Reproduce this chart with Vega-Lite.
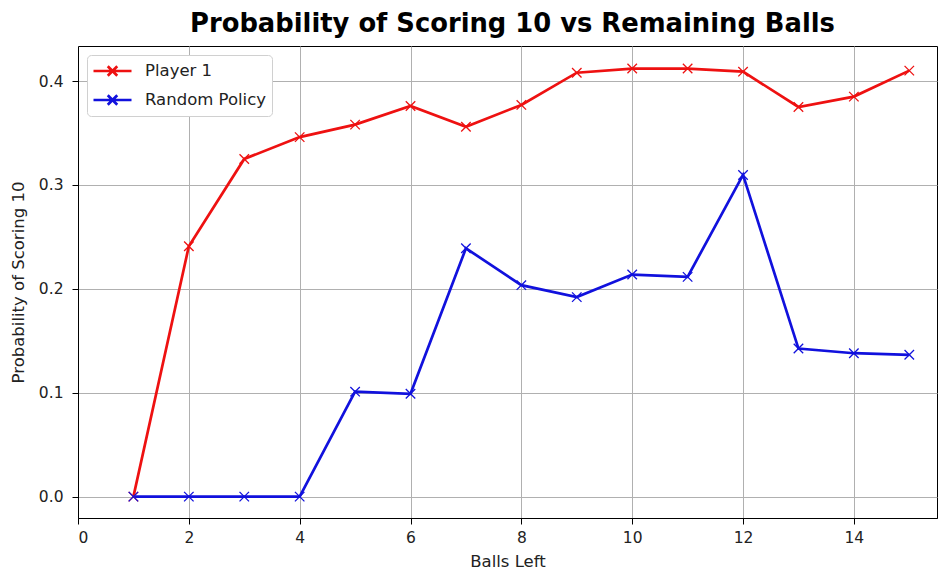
{
  "$schema": "https://vega.github.io/schema/vega-lite/v6.json",
  "width": 859,
  "height": 472,
  "autosize": {"type": "none"},
  "padding": {"left": 78, "top": 46, "right": 1, "bottom": 52},
  "background": "white",
  "config": {
    "font": "DejaVu Sans",
    "view": {"stroke": "black", "strokeWidth": 1},
    "axis": {
      "labelFont": "DejaVu Sans", "titleFont": "DejaVu Sans",
      "labelFontSize": 15.5, "titleFontSize": 16.5, "titleFontWeight": "normal",
      "labelColor": "#222", "titleColor": "#222",
      "gridColor": "#b0b0b0", "gridWidth": 1, "gridOpacity": 1,
      "domainColor": "black", "tickColor": "black", "tickSize": 6
    }
  },
  "title": {
    "text": "Probability of Scoring 10 vs Remaining Balls",
    "font": "DejaVu Sans", "fontSize": 25.8, "fontWeight": "bold", "color": "black",
    "anchor": "middle", "offset": 8, "dx": 5
  },
  "data": {
    "values": [
      {"balls": 1, "p": 0.0, "series": "Player 1"},
      {"balls": 2, "p": 0.241, "series": "Player 1"},
      {"balls": 3, "p": 0.325, "series": "Player 1"},
      {"balls": 4, "p": 0.346, "series": "Player 1"},
      {"balls": 5, "p": 0.358, "series": "Player 1"},
      {"balls": 6, "p": 0.376, "series": "Player 1"},
      {"balls": 7, "p": 0.356, "series": "Player 1"},
      {"balls": 8, "p": 0.377, "series": "Player 1"},
      {"balls": 9, "p": 0.408, "series": "Player 1"},
      {"balls": 10, "p": 0.412, "series": "Player 1"},
      {"balls": 11, "p": 0.412, "series": "Player 1"},
      {"balls": 12, "p": 0.409, "series": "Player 1"},
      {"balls": 13, "p": 0.375, "series": "Player 1"},
      {"balls": 14, "p": 0.385, "series": "Player 1"},
      {"balls": 15, "p": 0.41, "series": "Player 1"},
      {"balls": 1, "p": 0.0, "series": "Random Policy"},
      {"balls": 2, "p": 0.0, "series": "Random Policy"},
      {"balls": 3, "p": 0.0, "series": "Random Policy"},
      {"balls": 4, "p": 0.0, "series": "Random Policy"},
      {"balls": 5, "p": 0.101, "series": "Random Policy"},
      {"balls": 6, "p": 0.099, "series": "Random Policy"},
      {"balls": 7, "p": 0.239, "series": "Random Policy"},
      {"balls": 8, "p": 0.2035, "series": "Random Policy"},
      {"balls": 9, "p": 0.192, "series": "Random Policy"},
      {"balls": 10, "p": 0.2137, "series": "Random Policy"},
      {"balls": 11, "p": 0.2115, "series": "Random Policy"},
      {"balls": 12, "p": 0.3096, "series": "Random Policy"},
      {"balls": 13, "p": 0.1425, "series": "Random Policy"},
      {"balls": 14, "p": 0.138, "series": "Random Policy"},
      {"balls": 15, "p": 0.1365, "series": "Random Policy"}
    ]
  },
  "encoding": {
    "x": {
      "field": "balls", "type": "quantitative",
      "scale": {"domain": [0, 15.5], "nice": false, "zero": false},
      "axis": {"values": [0, 2, 4, 6, 8, 10, 12, 14], "title": "Balls Left", "titlePadding": 8, "labelPadding": 6}
    },
    "y": {
      "field": "p", "type": "quantitative",
      "scale": {"domain": [-0.0206, 0.4337], "nice": false, "zero": false},
      "axis": {"values": [0, 0.1, 0.2, 0.3, 0.4], "format": ".1f", "title": "Probability of Scoring 10", "titlePadding": 12, "labelPadding": 9}
    },
    "color": {
      "field": "series", "type": "nominal",
      "scale": {"domain": ["Player 1", "Random Policy"], "range": ["#ee1111", "#1111dd"]}
    }
  },
  "layer": [
    {
      "mark": {"type": "line", "strokeWidth": 2.7},
      "encoding": {
        "color": {
          "field": "series", "type": "nominal",
          "scale": {"domain": ["Player 1", "Random Policy"], "range": ["#ee1111", "#1111dd"]},
          "legend": {
            "title": null, "orient": "top-left", "offset": 9,
            "labelFontSize": 16.5, "labelFont": "DejaVu Sans", "labelColor": "#222",
            "symbolType": "M-1,0H3M0.5,-0.5L1.5,0.5M0.5,0.5L1.5,-0.5",
            "symbolSize": 361, "symbolStrokeWidth": 2.7,
            "strokeColor": "#d0d0d0", "fillColor": "white", "cornerRadius": 4,
            "padding": 5, "rowPadding": 7, "labelOffset": 31
          }
        }
      }
    },
    {
      "mark": {"type": "point", "shape": "M-1,-1L1,1M-1,1L1,-1", "filled": false, "size": 90, "strokeWidth": 1.3, "opacity": 1},
      "encoding": {
        "color": {
          "field": "series", "type": "nominal",
          "scale": {"domain": ["Player 1", "Random Policy"], "range": ["#ee1111", "#1111dd"]},
          "legend": null
        }
      }
    }
  ]
}
